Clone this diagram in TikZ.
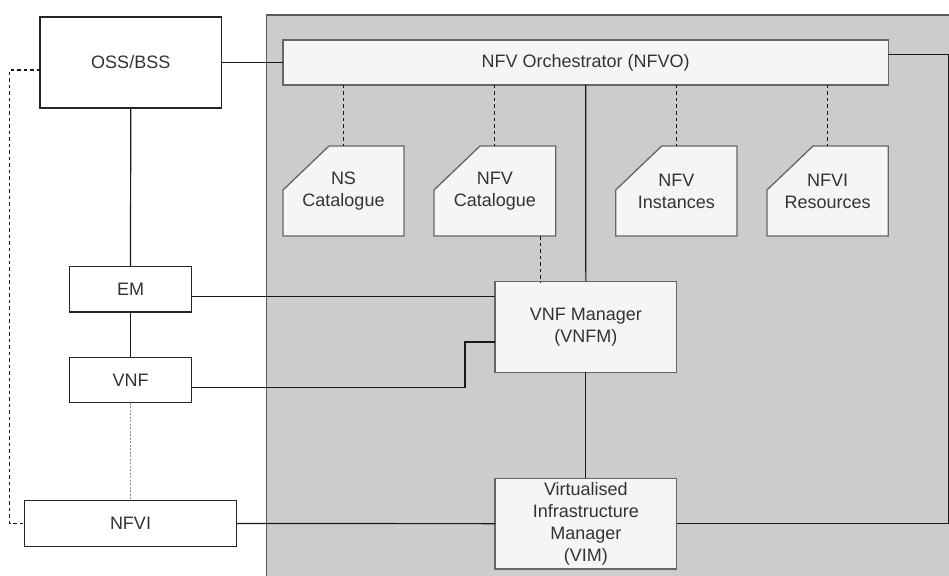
\documentclass[tikz,border=0pt]{standalone}
\usepackage{fontspec}
\setmainfont{Liberation Sans}
\usetikzlibrary{calc}
\pgfdeclarelayer{bg}
\pgfsetlayers{bg,main}
\definecolor{txt}{HTML}{333333}
\definecolor{region}{HTML}{CCCCCC}
\definecolor{innerfill}{HTML}{F5F5F5}
\definecolor{innerline}{HTML}{666666}
\begin{document}
\begin{tikzpicture}[x=1pt,y=-1pt,
  every node/.style={font=\fontsize{18}{22}\selectfont, text=txt, align=center, inner sep=0pt, outer sep=0pt, anchor=north west},
  outerbox/.style={draw=black!85, line width=1.3pt, fill=white},
  innerbox/.style={draw=innerline, line width=1.3pt, fill=innerfill},
  catbox/.style={},
  catshape/.style={draw=innerline, line width=1.3pt, fill=innerfill},
  conn/.style={draw=black!90, line width=1.2pt},
  dconn/.style={draw=black!90, line width=1.2pt, dash pattern=on 3.5pt off 3pt},
  dotconn/.style={draw=black!45, line width=1pt, dash pattern=on 2pt off 1.5pt}]
\useasboundingbox (0,0) rectangle (949,575);
% external nodes
\node[outerbox, minimum width=181.5pt, minimum height=91pt] (oss) at (40,17) {OSS/BSS};
\node[outerbox, minimum width=121.6pt, minimum height=45.7pt] (em) at (69.7,266.3) {EM};
\node[outerbox, minimum width=121.6pt, minimum height=45.4pt] (vnf) at (69.7,357.3) {VNF};
\node[outerbox, minimum width=212.4pt, minimum height=45.6pt] (nfvi) at (24.3,500.7) {NFVI};
% inner nodes
\node[innerbox, minimum width=605.3pt, minimum height=45pt] (nfvo) at (283,40) {NFV Orchestrator (NFVO)};
\node[catbox, minimum width=121pt, minimum height=90pt] (nscat) at (283,146) {NS\\Catalogue};
\node[catbox, minimum width=121.7pt, minimum height=90pt] (nfvcat) at (434,146) {NFV\\Catalogue};
\node[catbox, minimum width=121.3pt, minimum height=90pt] (nfvinst) at (615.7,146) {NFV\\Instances};
\node[catbox, minimum width=121.3pt, minimum height=90pt] (nfvires) at (767,146) {NFVI\\Resources};
\node[innerbox, minimum width=181.7pt, minimum height=90.6pt] (vnfm) at (495,281.7) {VNF Manager\\(VNFM)};
\node[innerbox, minimum width=181.7pt, minimum height=90.7pt] (vim) at (495,478.3) {Virtualised\\Infrastructure\\Manager\\(VIM)};
% background: region and catalogue shapes
\begin{pgfonlayer}{bg}
  \filldraw[fill=region, draw=black!65, line width=1.2pt] (266.5,15) rectangle (960,590);
  \foreach \n in {nscat,nfvcat,nfvinst,nfvires}{
    \filldraw[catshape] ($(\n.north west)+(46,0)$) -- (\n.north east) -- (\n.south east) -- (\n.south west) -- ($(\n.north west)+(0,44)$) -- cycle;
  }
\end{pgfonlayer}
% connectors
\draw[conn] (oss.east) -- (nfvo.west);
\draw[conn] (oss.south) -- (em.north);
\draw[conn] (em.south) -- (vnf.north);
\draw[dotconn] (vnf.south) -- (nfvi.north);
\draw[dconn] ([yshift=-7.5pt]oss.west) -- ++(-30.5,0) |- (nfvi.west);
\foreach \n in {nscat,nfvcat,nfvinst,nfvires}{
  \draw[dconn] (\n.north |- nfvo.south) -- (\n.north);
}
\draw[conn] (nfvo.south) -- (vnfm.north);
\draw[dconn] ([xshift=45.4pt]nfvcat.south) -- ([xshift=45.4pt]nfvcat.south |- vnfm.north);
\draw[conn] (vnfm.south) -- (vim.north);
\draw[conn] ([yshift=-7.7pt]em.east) -- ([yshift=-7.7pt]em.east -| vnfm.west);
\draw[conn] ([yshift=-7.3pt]vnf.east) -- ++(273.7,0) |- ([yshift=-15pt]vnfm.west);
\draw[conn] (nfvi.east) -- (vim.west);
\draw[conn] ([yshift=8.2pt]nfvo.east) -- ++(60,0) |- (vim.east);
\end{tikzpicture}
\end{document}
